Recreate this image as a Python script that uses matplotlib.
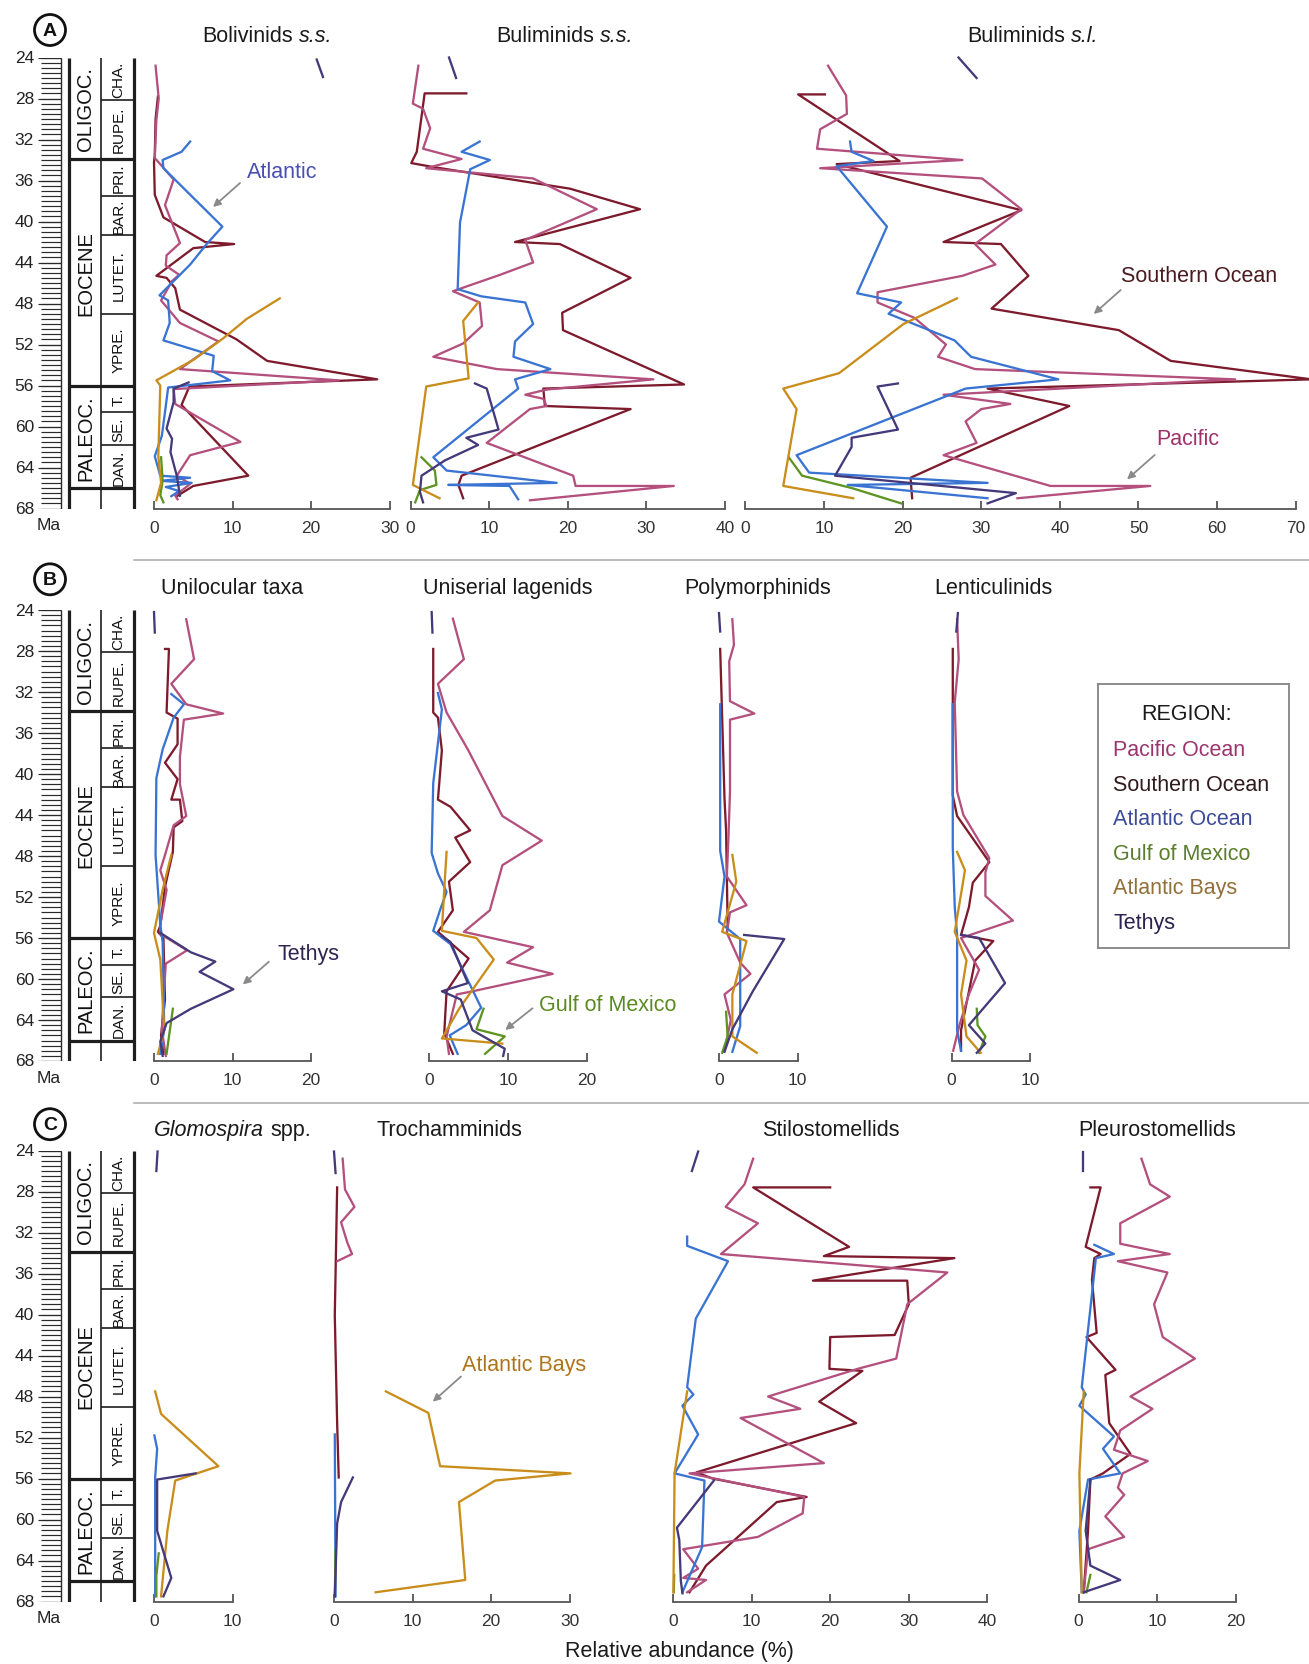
import numpy as np
import matplotlib.pyplot as plt
from matplotlib.patches import Circle, Rectangle

plt.rcParams['font.family'] = ['Liberation Sans', 'DejaVu Sans']

W, H = 1309, 1665
PX = 7.86  # pixels per 1 % of relative abundance

regions = ['Pacific Ocean', 'Southern Ocean', 'Atlantic Ocean', 'Gulf of Mexico', 'Atlantic Bays', 'Tethys']
line_colors = ['#b3507d', '#7d1a2c', '#3a74d2', '#5e9422', '#c98d1c', '#45397a']
label_colors = ['#9b356d', '#2e1a1c', '#3d4c98', '#5b7d2c', '#93703a', '#2c2250']

age_ticks = list(range(24, 69, 4))
epoch_bounds = [33.9, 56.0, 66.0]
stage_bounds = [28.1, 37.5, 41.3, 49.0, 58.6, 61.8]
epochs = [('OLIGOC.', 28.95), ('EOCENE', 44.95), ('PALEOC.', 61.0)]
stages = [('CHA.', 26.05), ('RUPE.', 31.0), ('PRI.', 35.7), ('BAR.', 39.4), ('LUTET.', 45.15),
          ('YPRE.', 52.5), ('T.', 57.3), ('SE.', 60.2), ('DAN.', 63.9)]

# ---- (age Ma, relative abundance %) ----
# A: Bolivinids s.s.
bol_pac = [(24.8, 0.2), (28.0, 0.6), (30.1, 0.3), (33.8, 0.1), (34.5, 0.9), (35.9, 2.5), (38.4, 1.4),
           (42.1, 3.3), (43.3, 1.6), (44.3, 1.5), (45.2, 3.2), (45.8, 2.3), (47.7, 0.9), (49.9, 3.3),
           (51.7, 8.2), (54.4, 3.3), (55.5, 23.5), (56.35, 2.5), (57.8, 2.7), (61.5, 11.0), (62.8, 4.6),
           (64.8, 2.9), (65.6, 4.6), (66.75, 2.7), (67.1, 3.0)]
bol_sou = [(27.8, 0.5), (30.0, 0.2), (33.5, 0.1), (34.2, 0.0), (37.4, 0.1), (39.6, 1.2), (42.0, 6.5),
           (42.2, 10.2), (42.6, 5.0), (45.3, 0.3), (45.5, 1.6), (46.5, 2.7), (48.6, 3.3), (51.5, 10.5),
           (53.6, 14.4), (55.4, 28.4), (56.1, 4.5), (57.9, 3.5), (64.8, 12.0), (65.8, 5.0), (66.8, 2.9)]
bol_atl = [(32.2, 4.6), (33.2, 3.5), (34.0, 1.1), (34.8, 1.2), (40.5, 8.7), (42.2, 6.7), (44.2, 4.6),
           (47.2, 0.7), (47.7, 1.8), (49.9, 2.0), (51.6, 1.2), (53.1, 7.6), (54.6, 7.4), (55.5, 9.7),
           (56.2, 1.8), (58.0, 1.5), (60.9, 1.0), (62.9, 0.1), (64.8, 0.8), (65.0, 4.6), (65.3, 0.9),
           (65.5, 4.8), (65.9, 1.5), (66.3, 3.2), (66.8, 2.2)]
bol_gom = [(63.0, 0.9), (65.3, 1.1), (66.7, 0.8), (67.4, 1.2)]
bol_bay = [(47.5, 16.0), (49.5, 11.8), (51.4, 8.8), (53.5, 5.0), (55.5, 0.3), (56.0, 0.8), (62.9, 0.55),
           (65.5, 0.9), (67.2, 0.3)]
bol_tet_olig = [(24.2, 20.7), (25.9, 21.5)]
bol_tet = [(55.7, 4.4), (56.3, 2.5), (57.6, 2.5), (60.2, 1.6), (61.2, 2.3), (62.5, 2.1), (64.8, 2.9),
           (66.75, 3.3)]

# A: Buliminids s.s.
bss_pac = [(24.8, 1.0), (28.5, 0.3), (29.0, 1.6), (30.9, 2.5), (32.9, 1.6), (33.9, 6.5), (34.8, 2.0),
           (35.8, 15.6), (38.8, 23.7), (41.8, 14.6), (44.0, 15.6), (45.2, 11.4), (46.8, 5.4), (47.9, 8.8),
           (50.2, 9.1), (51.9, 6.7), (53.2, 2.9), (54.4, 11.0), (55.4, 30.9), (56.4, 17.3), (56.9, 14.6),
           (57.3, 16.9), (58.0, 17.3), (58.3, 15.2), (61.6, 9.7), (64.8, 20.7), (65.8, 21.0), (65.8, 33.5),
           (67.2, 15.2)]
bss_sou = [(27.5, 7.1), (27.5, 1.8), (33.2, 0.8), (34.3, 0.1), (34.7, 3.0), (36.8, 20.3), (38.8, 29.2),
           (42.0, 13.3), (42.2, 19.0), (45.5, 28.0), (48.9, 19.3), (50.6, 19.4), (55.9, 34.8), (56.3, 16.9),
           (58.0, 17.1), (58.3, 28.0), (64.8, 6.5), (65.7, 6.1), (67.0, 6.7)]
bss_atl = [(32.2, 8.8), (33.2, 6.5), (34.0, 10.1), (34.9, 7.6), (40.1, 6.3), (46.6, 6.0), (47.3, 9.0),
           (47.9, 14.6), (50.0, 15.6), (51.7, 13.3), (53.2, 13.1), (54.4, 17.8), (55.4, 13.3), (56.3, 13.7),
           (63.0, 2.9), (64.3, 4.6), (65.5, 18.6), (65.7, 4.8), (65.8, 12.6), (67.1, 13.7)]
bss_gom = [(63.0, 1.4), (64.3, 3.1), (65.7, 3.3), (66.2, 1.2), (67.4, 0.6)]
bss_bay = [(47.9, 8.6), (49.7, 6.7), (55.3, 7.4), (56.1, 2.0), (65.7, 0.3), (67.0, 3.7)]
bss_tet_olig = [(24.0, 4.9), (26.0, 5.8)]
bss_tet = [(55.8, 8.2), (56.3, 9.7), (60.3, 11.2), (61.1, 7.1), (61.8, 8.6), (63.3, 4.4), (64.8, 1.4),
           (66.4, 1.2), (67.4, 1.6)]

# A: Buliminids s.l.
bsl_pac = [(24.8, 10.5), (27.7, 12.8), (29.5, 12.9), (31.0, 9.5), (32.9, 9.1), (34.0, 27.6), (34.8, 9.5),
           (35.8, 30.1), (38.8, 35.1), (42.2, 29.2), (44.2, 31.8), (45.3, 27.6), (46.9, 16.8), (47.9, 16.8),
           (49.4, 21.5), (52.0, 25.5), (53.2, 24.5), (54.4, 29.2), (55.4, 62.3), (56.9, 25.2), (57.8, 33.7),
           (58.3, 30.0), (59.5, 28.0), (61.6, 29.4), (62.8, 25.2), (65.8, 38.8), (65.8, 51.5), (67.0, 34.6)]
bsl_sou = [(27.6, 10.1), (27.6, 6.7), (34.1, 19.6), (34.4, 11.6), (38.9, 35.1), (42.0, 25.2), (42.2, 32.5),
           (45.3, 36.0), (48.5, 31.3), (50.6, 47.5), (53.6, 54.1), (55.4, 72.0), (56.3, 30.8), (58.0, 41.2),
           (65.0, 21.0), (67.0, 21.2)]
bsl_atl = [(32.2, 13.3), (33.2, 13.5), (34.1, 16.3), (34.6, 11.6), (40.5, 18.0), (47.0, 14.2), (47.9, 19.8),
           (49.0, 18.2), (51.6, 26.6), (53.2, 28.7), (55.4, 39.8), (56.3, 28.0), (62.8, 6.5), (64.5, 8.1),
           (65.5, 30.8), (65.7, 13.0), (67.0, 30.8)]
bsl_gom = [(63.0, 5.5), (64.8, 7.2), (66.0, 13.5), (67.5, 19.8)]
bsl_bay = [(47.5, 26.9), (50.0, 20.1), (54.8, 11.9), (56.3, 4.8), (58.3, 6.5), (65.8, 4.8), (67.0, 13.7)]
bsl_tet_olig = [(24.0, 27.1), (26.0, 29.4)]
bsl_tet = [(55.8, 19.4), (56.1, 16.8), (60.3, 19.4), (61.1, 13.5), (62.0, 13.5), (64.8, 11.4), (66.5, 34.4),
           (67.5, 30.8)]

# B: Unilocular taxa
uni_pac = [(24.9, 4.1), (28.8, 5.1), (31.2, 2.2), (33.2, 4.1), (34.1, 8.8), (34.7, 3.8), (38.3, 3.3),
           (41.0, 3.3), (44.1, 4.1), (45.0, 2.5), (47.9, 1.4), (49.4, 0.8), (51.3, 1.6), (54.7, 0.8),
           (55.6, 0.8), (57.2, 4.2), (58.5, 1.5), (62.0, 1.2), (65.0, 1.0), (67.5, 1.5)]
uni_sou = [(27.8, 1.4), (27.8, 1.9), (34.0, 1.6), (34.6, 3.0), (37.1, 3.0), (38.9, 1.4), (40.5, 3.0),
           (42.5, 2.2), (42.5, 3.3), (44.6, 3.6), (45.2, 2.5), (47.6, 2.4), (51.0, 1.4), (54.8, 0.8),
           (55.4, 0.5), (56.0, 1.2), (62.0, 1.4), (65.5, 0.9), (67.3, 1.2)]
uni_atl = [(32.2, 2.2), (33.2, 3.8), (34.5, 2.5), (37.6, 1.1), (40.4, 0.3), (47.9, 0.2), (54.7, 0.8),
           (56.4, 1.1), (64.9, 1.3), (67.3, 0.8)]
uni_gom = [(62.9, 2.4), (67.3, 1.6)]
uni_bay = [(47.9, 2.2), (51.3, 1.1), (55.5, 0.0), (58.1, 0.8), (65.0, 1.3), (67.3, 0.5)]
uni_tet_olig = [(24.2, 0.0), (26.2, 0.1)]
uni_tet = [(55.5, 0.8), (57.4, 4.7), (58.3, 7.8), (59.3, 5.8), (61.0, 10.1), (62.9, 4.7), (64.3, 1.6),
           (66.1, 0.8), (67.5, 1.1)]

# B: Uniserial lagenids
lag_pac = [(24.85, 3.0), (28.8, 4.4), (31.2, 1.1), (34.0, 2.2), (37.6, 4.9), (44.1, 9.3), (46.5, 14.3),
           (48.9, 9.3), (53.3, 7.7), (55.4, 4.4), (56.9, 13.2), (58.4, 9.9), (59.5, 15.7), (61.2, 5.5),
           (61.5, 3.5), (65.6, 2.2), (67.3, 2.5)]
lag_sou = [(27.8, 0.5), (34.0, 0.5), (34.5, 1.1), (37.7, 1.6), (42.5, 1.1), (43.2, 2.7), (45.5, 5.2),
           (46.2, 3.3), (48.6, 5.2), (50.5, 2.5), (53.3, 3.0), (55.4, 1.1), (58.0, 5.0), (61.2, 2.2),
           (65.3, 1.9), (67.3, 3.0)]
lag_atl = [(32.1, 1.1), (33.7, 1.6), (40.9, 0.5), (47.7, 0.3), (49.7, 1.1), (51.5, 2.2), (53.2, 1.4),
           (55.3, 0.5), (56.6, 2.7), (59.8, 4.7), (62.8, 6.6), (64.5, 4.7), (65.5, 2.6), (67.3, 3.6)]
lag_gom = [(62.9, 6.9), (64.9, 6.0), (65.6, 9.6), (67.3, 7.1)]
lag_bay = [(47.6, 2.2), (50.0, 2.0), (55.3, 1.6), (56.0, 6.0), (58.1, 8.2), (62.9, 3.8), (65.8, 1.6),
           (66.3, 9.3)]
lag_tet_olig = [(24.2, 0.3), (26.2, 0.4)]
lag_tet = [(55.8, 1.6), (56.4, 2.7), (60.4, 4.9), (61.2, 1.6), (62.0, 4.0), (65.0, 5.5), (66.8, 9.6),
           (67.5, 9.4)]

# B: Polymorphinids
pol_pac = [(24.9, 1.7), (27.4, 1.9), (29.0, 1.3), (32.9, 1.4), (34.1, 4.5), (34.7, 1.4), (41.7, 1.4),
           (46.2, 1.2), (50.0, 1.0), (52.8, 3.5), (53.5, 1.4), (55.5, 1.0), (58.4, 2.7), (59.5, 4.0),
           (61.5, 0.7), (64.0, 1.5), (67.0, 0.7)]
pol_sou = [(27.8, 0.15), (42.4, 0.7), (45.5, 0.9), (54.7, 1.1), (55.5, 1.0)]
pol_atl = [(33.2, 0.15), (47.5, 0.15), (50.0, 0.7), (54.4, 0.0), (56.1, 2.7), (64.6, 2.7), (67.1, 1.7)]
pol_gom = [(63.2, 0.9), (65.6, 1.1), (67.2, 0.4)]
pol_bay = [(47.9, 1.7), (50.5, 2.2), (55.4, 0.4), (56.3, 3.5), (61.5, 1.7), (65.6, 1.7), (67.2, 4.8)]
pol_tet_olig = [(24.3, 0.0), (26.1, 0.15)]
pol_tet = [(55.7, 3.2), (56.1, 8.3), (61.2, 4.3), (64.9, 1.7), (67.1, 0.7)]

# B: Lenticulinids
len_pac = [(24.9, 0.7), (28.8, 0.9), (33.0, 0.4), (41.7, 0.7), (44.0, 1.5), (48.2, 4.8), (49.6, 4.3),
           (51.9, 4.3), (54.3, 7.8), (56.0, 1.2), (59.1, 3.5), (61.5, 2.2), (64.5, 1.0), (67.0, 0.2)]
len_sou = [(27.8, 0.15), (42.1, 0.15), (44.1, 0.7), (48.6, 4.8), (50.6, 2.7), (53.0, 2.2), (55.7, 1.2),
           (56.3, 5.3), (58.2, 3.0), (65.0, 1.2), (67.0, 1.2)]
len_atl = [(33.2, 0.15), (47.2, 0.15), (53.0, 0.4), (55.7, 0.7), (65.0, 0.7), (67.0, 1.2)]
len_gom = [(62.9, 3.2), (64.5, 3.3), (65.6, 4.3), (67.2, 3.5)]
len_bay = [(47.6, 0.7), (49.4, 1.7), (55.4, 0.4), (58.2, 1.9), (61.5, 1.2), (65.6, 1.9), (67.2, 3.7)]
len_tet_olig = [(24.3, 0.8), (26.1, 0.6)]
len_tet = [(55.7, 1.2), (56.0, 3.5), (60.4, 6.8), (64.5, 2.2), (66.3, 4.3), (67.2, 3.2)]

# C: Glomospira spp.
glo_atl = [(51.8, 0.05), (53.1, 0.4), (55.9, 0.15), (67.5, 0.15)]
glo_gom = [(63.3, 0.6), (65.5, 0.3), (67.5, 0.3)]
glo_bay = [(47.5, 0.15), (49.7, 0.9), (54.8, 8.2), (56.2, 2.7), (61.1, 1.7), (67.5, 0.9)]
glo_tet_olig = [(24.1, 0.45), (26.0, 0.3)]
glo_tet = [(55.5, 5.3), (56.1, 0.4), (61.1, 0.4), (65.7, 2.2), (67.5, 1.2)]

# C: Trochamminids
tro_pac = [(24.8, 1.1), (27.8, 1.4), (29.5, 2.6), (31.0, 0.9), (33.0, 1.7), (34.1, 2.3), (34.8, 0.4)]
tro_sou = [(27.6, 0.4), (40.1, 0.1), (50.6, 0.4), (55.9, 0.6)]
tro_atl = [(51.7, 0.1), (67.5, 0.2)]
tro_gom = [(63.0, 0.2), (67.5, 0.1)]
tro_bay = [(47.5, 6.6), (49.6, 12.0), (54.8, 13.5), (55.5, 30.1), (56.2, 20.5), (58.3, 15.9), (65.9, 16.7),
           (67.1, 5.3)]
tro_tet_olig = [(24.1, 0.0), (26.2, 0.2)]
tro_tet = [(55.9, 2.4), (58.3, 0.9), (60.4, 0.4), (67.5, 0.1)]

# C: Stilostomellids
sti_pac = [(24.8, 10.2), (27.3, 9.1), (29.5, 6.7), (31.1, 10.8), (34.1, 6.1), (35.9, 34.9), (39.0, 29.8),
           (44.3, 28.4), (45.3, 23.5), (48.0, 12.1), (49.2, 16.2), (50.1, 8.6), (54.5, 19.2), (55.5, 2.1),
           (57.8, 16.7), (59.4, 16.5), (61.7, 10.8), (62.9, 1.3), (64.8, 3.2), (65.7, 1.3), (65.9, 4.2),
           (67.1, 1.8)]
sti_sou = [(27.6, 20.0), (27.6, 10.2), (33.4, 22.4), (34.3, 19.2), (34.5, 35.8), (36.7, 17.8), (36.7, 29.8),
           (39.0, 30.0), (42.0, 28.2), (42.2, 20.0), (45.3, 19.9), (45.5, 24.1), (48.5, 18.6), (50.6, 23.3),
           (55.4, 3.0), (56.0, 5.0), (57.8, 17.0), (58.3, 13.2), (64.5, 4.2), (67.1, 2.1)]
sti_atl = [(32.4, 1.8), (33.3, 1.8), (34.8, 7.0), (40.4, 2.9), (47.1, 1.8), (47.8, 2.6), (48.9, 1.2),
           (51.7, 3.2), (55.5, 0.2), (56.2, 4.0), (62.7, 3.7), (67.1, 1.2)]
sti_gom = [(65.4, 0.15), (67.1, 0.1)]
sti_bay = [(47.5, 1.8), (55.5, 0.2), (67.1, 0.05)]
sti_tet_olig = [(24.1, 3.2), (26.0, 2.4)]
sti_tet = [(56.2, 5.2), (60.8, 0.5), (62.0, 0.8), (66.0, 1.0), (67.2, 1.2)]

# C: Pleurostomellids
ple_pac = [(24.8, 8.0), (27.3, 9.1), (28.5, 11.6), (31.1, 5.3), (33.1, 5.3), (34.1, 11.6), (34.8, 5.0),
           (35.9, 11.3), (39.0, 9.6), (42.2, 10.7), (44.3, 14.8), (48.0, 6.6), (49.2, 9.4), (51.3, 5.3),
           (53.2, 4.5), (54.3, 8.8), (55.5, 5.6), (56.9, 5.0), (57.6, 5.8), (59.7, 3.4), (61.7, 5.8),
           (62.9, 1.2), (67.1, 0.65)]
ple_sou = [(27.6, 1.5), (27.6, 2.8), (33.4, 0.9), (34.1, 2.8), (34.5, 2.0), (36.6, 1.7), (41.8, 2.3),
           (42.2, 1.0), (45.4, 4.7), (45.9, 3.4), (50.6, 3.9), (53.6, 6.6), (55.5, 3.1), (56.1, 1.5),
           (61.1, 1.2), (67.1, 0.65)]
ple_atl = [(33.2, 2.0), (34.1, 4.5), (34.5, 2.2), (47.1, 0.4), (47.8, 0.9), (48.9, 0.1), (51.9, 4.5),
           (53.1, 3.1), (55.5, 5.3), (56.1, 1.2), (61.1, 0.1), (67.1, 0.4)]
ple_gom = [(65.4, 1.5), (67.1, 1.0)]
ple_bay = [(47.5, 0.65), (55.5, 0.1), (67.1, 0.4)]
ple_tet_olig = [(24.1, 0.5), (26.0, 0.5)]
ple_tet = [(56.1, 1.5), (61.1, 0.9), (64.5, 1.5), (65.9, 5.3), (67.1, 0.65)]

# panel layout: (letter, circle y, y of 24 Ma, y of 68 Ma, title y, subplots)
# subplot: (title pieces, axis left px, x max, title centre px, [(region index, series), ...])
panels = [
    ('A', 31, 58.5, 509.5, 37, [
        ([('Bolivinids', 'normal'), ('s.s.', 'italic')], 154, 30, 267,
         [(1, bol_sou), (0, bol_pac), (2, bol_atl), (3, bol_gom), (4, bol_bay), (5, bol_tet), (5, bol_tet_olig)]),
        ([('Buliminids', 'normal'), ('s.s.', 'italic')], 410.5, 40, 565,
         [(1, bss_sou), (0, bss_pac), (2, bss_atl), (3, bss_gom), (4, bss_bay), (5, bss_tet), (5, bss_tet_olig)]),
        ([('Buliminids', 'normal'), ('s.l.', 'italic')], 745.5, 70, 1033,
         [(1, bsl_sou), (0, bsl_pac), (2, bsl_atl), (3, bsl_gom), (4, bsl_bay), (5, bsl_tet), (5, bsl_tet_olig)]),
    ]),
    ('B', 580.3, 611, 1062, 589, [
        ([('Unilocular taxa', 'normal')], 154, 20, 232,
         [(1, uni_sou), (0, uni_pac), (2, uni_atl), (3, uni_gom), (4, uni_bay), (5, uni_tet), (5, uni_tet_olig)]),
        ([('Uniserial lagenids', 'normal')], 429.3, 20, 508,
         [(1, lag_sou), (0, lag_pac), (2, lag_atl), (3, lag_gom), (4, lag_bay), (5, lag_tet), (5, lag_tet_olig)]),
        ([('Polymorphinids', 'normal')], 719, 10, 758,
         [(1, pol_sou), (0, pol_pac), (2, pol_atl), (3, pol_gom), (4, pol_bay), (5, pol_tet), (5, pol_tet_olig)]),
        ([('Lenticulinids', 'normal')], 951.6, 10, 993,
         [(1, len_sou), (0, len_pac), (2, len_atl), (3, len_gom), (4, len_bay), (5, len_tet), (5, len_tet_olig)]),
    ]),
    ('C', 1125.2, 1151.5, 1602.5, 1130.5, [
        ([('Glomospira', 'italic'), ('spp.', 'normal')], 154, 10, 232.7,
         [(2, glo_atl), (3, glo_gom), (4, glo_bay), (5, glo_tet), (5, glo_tet_olig)]),
        ([('Trochamminids', 'normal')], 334, 30, 449,
         [(1, tro_sou), (0, tro_pac), (2, tro_atl), (3, tro_gom), (4, tro_bay), (5, tro_tet), (5, tro_tet_olig)]),
        ([('Stilostomellids', 'normal')], 673, 40, 830.7,
         [(1, sti_sou), (0, sti_pac), (2, sti_atl), (3, sti_gom), (4, sti_bay), (5, sti_tet), (5, sti_tet_olig)]),
        ([('Pleurostomellids', 'normal')], 1078.6, 20, 1157,
         [(1, ple_sou), (0, ple_pac), (2, ple_atl), (3, ple_gom), (4, ple_bay), (5, ple_tet), (5, ple_tet_olig)]),
    ]),
]

# callout labels: (text, region index, text xy, arrow start, arrow tip) in figure pixels
callouts = [
    ('Atlantic', 2, (282, 173), (240, 184), (213, 208)),
    ('Southern Ocean', 1, (1199, 276.5), (1120.7, 291), (1093.7, 315)),
    ('Pacific', 0, (1188, 440), (1154.7, 456), (1127, 480.4)),
    ('Tethys', 5, (308, 955), (268.9, 962.7), (242.8, 985.5)),
    ('Gulf of Mexico', 3, (608, 1005.7), (532.5, 1009.3), (505.2, 1031)),
    ('Atlantic Bays', 4, (524.5, 1366), (461, 1377.5), (432.7, 1402.7)),
]
callout_colors = ['#a0306a', '#4a1a20', '#4a4fb0', '#5a8a20', '#b0741a', '#2e2450']

TITLE_FS = 15.5

fig = plt.figure(figsize=(W / 100, H / 100), dpi=100)
renderer = fig.canvas.get_renderer()


def px_axes(x0, y_top, width, y_bot):
    return fig.add_axes([x0 / W, 1 - y_bot / H, width / W, (y_bot - y_top) / H])


def timescale(y24, y68):
    ax = px_axes(0, y24, 150, y68)
    ax.set_xlim(0, 150)
    ax.set_ylim(68, 24)
    ax.axis('off')
    ink = '#1e1e1e'
    ax.hlines(np.arange(24, 68.01, 0.5), 41, 60.5, color='#2a2a2a', lw=0.85)
    ax.hlines(age_ticks, 38, 60.5, color='#2a2a2a', lw=0.85)
    ax.vlines(60.5, 24, 68, color='#2a2a2a', lw=1.0)
    for a in age_ticks:
        ax.text(34, a, str(a), ha='right', va='center', fontsize=12.5, color='#222222')
    ax.text(49, 69.6, 'Ma', ha='center', va='center', fontsize=12.5, color='#222222')
    ax.vlines([68.5, 134.3], 24, 68, color=ink, lw=2.3)
    ax.vlines(101, 24, 68, color=ink, lw=1.2)
    ax.hlines(epoch_bounds, 68.5, 134.3, color=ink, lw=2.3)
    ax.hlines(stage_bounds, 101, 134.3, color=ink, lw=1.2)
    for name, a in epochs:
        ax.text(85.5, a, name, rotation=90, ha='center', va='center', fontsize=14.5, color='#111111')
    for name, a in stages:
        ax.text(118.5, a, name, rotation=90, ha='center', va='center', fontsize=11, color='#111111')


def data_axes(x0, xmax, y24, y68):
    ax = px_axes(x0, y24, xmax * PX, y68)
    ax.set_xlim(0, xmax)
    ax.set_ylim(68, 24)
    ax.patch.set_alpha(0)
    for side in ('top', 'left', 'right'):
        ax.spines[side].set_visible(False)
    ax.spines['bottom'].set_color('#555555')
    ax.spines['bottom'].set_linewidth(1.3)
    ax.set_yticks([])
    ax.set_xticks(range(0, xmax + 1, 10))
    ax.tick_params(axis='x', direction='in', length=6, width=1.3, color='#555555',
                   pad=8, labelsize=12.5, labelcolor='#333333')
    return ax


def title_text(pieces, cx, cy):
    # lay the roman and italic pieces side by side, centred on cx
    gap = 0.278 * TITLE_FS * 100 / 72
    texts = [fig.text(0, 1 - cy / H, s, fontsize=TITLE_FS, style=st, ha='left', va='center',
                      color='#1a1a1a') for s, st in pieces]
    widths = [t.get_window_extent(renderer).width for t in texts]
    total = sum(widths) + gap * (len(texts) - 1)
    x = cx - total / 2
    for t, w in zip(texts, widths):
        t.set_x(x / W)
        x += w + gap


for letter, cy, y24, y68, ty, subplots in panels:
    timescale(y24, y68)
    for pieces, x0, xmax, tx, series in subplots:
        ax = data_axes(x0, xmax, y24, y68)
        for ri, pts in series:
            ages = [p[0] for p in pts]
            vals = [p[1] for p in pts]
            ax.plot(vals, ages, color=line_colors[ri], lw=1.65, clip_on=False)
        title_text(pieces, tx, ty)

# overlay in figure pixels for circles, dividers, legend and callouts
ov = fig.add_axes([0, 0, 1, 1])
ov.set_xlim(0, W)
ov.set_ylim(H, 0)
ov.axis('off')
ov.patch.set_alpha(0)

for letter, cy, y24, y68, ty, subplots in panels:
    ov.add_patch(Circle((50, cy), 15.5, fill=False, lw=2.0, ec='#111111'))
    ov.text(50, cy + 0.5, letter, ha='center', va='center', fontsize=14, fontweight='bold', color='#111111')

ov.plot([134, W], [561, 561], color='#a8a8a8', lw=1.1)
ov.plot([134, W], [1103.6, 1103.6], color='#a8a8a8', lw=1.1)

ov.add_patch(Rectangle((1098.3, 685), 191, 264.3, fill=False, ec='#8c8c8c', lw=1.4))
ov.text(1186.7, 714.3, 'REGION:', ha='center', va='center', fontsize=15.5, color='#1a1a1a')
for i, name in enumerate(regions):
    ov.text(1113.3, 751 + i * 34.5, name, ha='left', va='center', fontsize=15.5, color=label_colors[i])

for text, ri, txy, a0, a1 in callouts:
    ov.text(txy[0], txy[1], text, ha='center', va='center', fontsize=15.5, color=callout_colors[ri])
    ov.annotate('', xy=a1, xytext=a0,
                arrowprops=dict(arrowstyle='-|>', color='#8a8a8a', lw=1.3, mutation_scale=11,
                                shrinkA=0, shrinkB=0))

ov.text(679.5, 1652, 'Relative abundance (%)', ha='center', va='center', fontsize=15.5, color='#1a1a1a')

fig.savefig('out.png', dpi=100)
